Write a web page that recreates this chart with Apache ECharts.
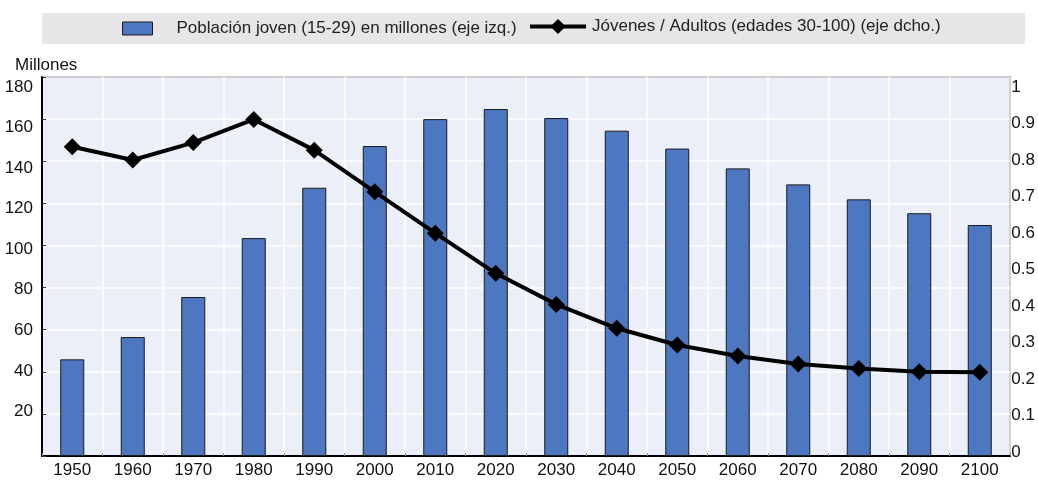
<!DOCTYPE html>
<html><head><meta charset="utf-8">
<script src="https://cdn.jsdelivr.net/npm/echarts@6/dist/echarts.min.js"></script>
<style>html,body{margin:0;padding:0;background:#fff}#c{width:1038px;height:480px}</style>
</head><body><div id="c"></div>
<script>
const years = ['1950','1960','1970','1980','1990','2000','2010','2020','2030','2040','2050','2060','2070','2080','2090','2100'];
const youthMillions = [45.9,56.5,75.5,103.5,127.4,147.2,160.0,164.8,160.5,154.5,146.0,136.6,129.0,121.9,115.3,109.7];
const youthAdultRatio = [0.816,0.781,0.827,0.888,0.807,0.697,0.588,0.482,0.400,0.337,0.293,0.264,0.243,0.231,0.222,0.221];
const barName = 'Población joven (15-29) en millones (eje izq.)';
const lineName = 'Jóvenes / Adultos (edades 30-100) (eje dcho.)';
const FONT = '"Liberation Sans Narrow", "Arial Narrow", "Liberation Sans", sans-serif';

const chart = echarts.init(document.getElementById('c'), null, {renderer:'canvas'});
chart.setOption({
  animation:false,
  textStyle:{fontFamily:FONT},
  graphic:[{type:'rect', shape:{x:42,y:13,width:983,height:31}, style:{fill:'#E6E6E6'}, z:-1}],
  legend:[
    {data:[{name:barName, icon:'rect'}], left:117, top:15, itemWidth:30, itemHeight:13, itemGap:0,
     itemStyle:{borderColor:'#1a1a1a', borderWidth:1},
     textStyle:{fontFamily:FONT, fontSize:17, color:'#222', padding:[0,0,0,19]}},
    {data:[lineName], left:523, top:13, itemWidth:56, itemHeight:19, itemGap:0,
     lineStyle:{width:4, color:'#000'},
     textStyle:{fontFamily:FONT, fontSize:17, color:'#222', padding:[0,0,0,1]}}
  ],
  grid:[
    {left:42, right:28, top:77, bottom:24, show:true, backgroundColor:'#EBF0F8', borderColor:'#000', borderWidth:1.5},
    {left:42, right:28, top:87, bottom:28, show:false}
  ],
  xAxis:[
    {type:'category', data:years, gridIndex:0,
     axisLine:{lineStyle:{color:'#000', width:2}},
     axisTick:{show:true, inside:true, length:3, alignWithLabel:false, lineStyle:{color:'#888'}},
     axisLabel:{fontFamily:FONT, fontSize:17, color:'#111', margin:6},
     splitLine:{show:true, lineStyle:{color:'#fff', width:1.5}}},
    {type:'category', data:years, gridIndex:1, show:false}
  ],
  yAxis:[
    {type:'value', gridIndex:0, min:0, max:180, interval:20,
     axisLine:{show:true, lineStyle:{color:'#000', width:2}},
     axisTick:{show:true, inside:true, length:4, lineStyle:{color:'#333'}},
     axisLabel:{show:false},
     splitLine:{show:true, lineStyle:{color:'#fff', width:1.5}}},
    {type:'value', gridIndex:0, min:0, max:1, interval:0.1, position:'right',
     axisLine:{show:false}, axisTick:{show:false}, axisLabel:{show:false}, splitLine:{show:false}},
    {type:'value', gridIndex:1, min:0, max:180, interval:20, position:'left',
     name:'Millones', nameLocation:'end', nameGap:13,
     nameTextStyle:{fontFamily:FONT, fontSize:17, color:'#111', align:'left', padding:[0,0,0,-27]},
     axisLine:{show:false}, axisTick:{show:false}, splitLine:{show:false},
     axisLabel:{fontFamily:FONT, fontSize:17, color:'#111', margin:9,
       formatter:v=> v===0 ? '' : String(v)}},
    {type:'value', gridIndex:1, min:0, max:1, interval:0.1, position:'right',
     axisLine:{show:false}, axisTick:{show:false}, splitLine:{show:false},
     axisLabel:{fontFamily:FONT, fontSize:17, color:'#111', margin:4,
       formatter:v=> String(Math.round(v*10)/10)}}
  ],
  series:[
    {name:barName, type:'bar', xAxisIndex:0, yAxisIndex:0, data:youthMillions, barWidth:24,
     itemStyle:{color:'#4D77C1', borderColor:'#1a1a1a', borderWidth:1}},
    {name:lineName, type:'line', xAxisIndex:0, yAxisIndex:1, data:youthAdultRatio,
     symbol:'diamond', symbolSize:17, lineStyle:{color:'#000', width:4},
     itemStyle:{color:'#000'}, z:5}
  ]
});
</script></body></html>
